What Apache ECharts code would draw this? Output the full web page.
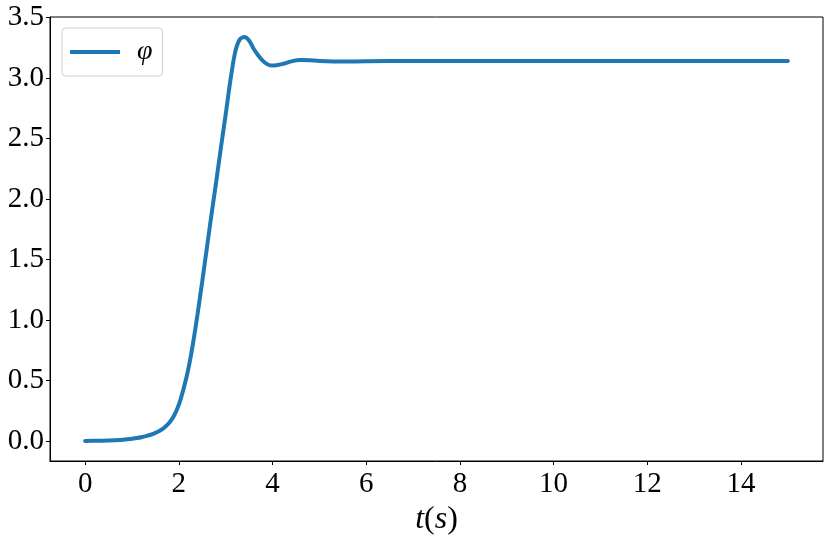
<!DOCTYPE html>
<html>
<head>
<meta charset="utf-8">
<script src="https://cdn.jsdelivr.net/npm/echarts@6/dist/echarts.min.js"></script>
<style>
  html, body { margin: 0; padding: 0; background: #fff; }
  #chart { width: 830px; height: 537px; }
</style>
</head>
<body>
<div id="chart"></div>
<script>
// ==============================================================
// phi(t) step response
// ==============================================================
var tValues = [0, 0.25, 0.5, 0.75, 1.0, 1.1, 1.2, 1.3, 1.4, 1.5, 1.6, 1.7, 1.8, 1.9, 2.0, 2.1, 2.2, 2.3, 2.4, 2.5, 2.6, 2.7, 2.8, 2.9, 3.0, 3.1, 3.2, 3.3, 3.4, 3.5, 3.6, 3.7, 3.8, 3.9, 4.0, 4.2, 4.4, 4.6, 4.8, 5.0, 5.5, 6.0, 7.0, 8.0, 10.0, 12.0, 15.0];
var phiValues = [0, 0.001, 0.003, 0.008, 0.018, 0.024, 0.031, 0.04, 0.051, 0.066, 0.086, 0.113, 0.152, 0.21, 0.3, 0.43, 0.59, 0.8, 1.05, 1.32, 1.6, 1.88, 2.15, 2.43, 2.7, 2.98, 3.21, 3.32, 3.34, 3.31, 3.24, 3.185, 3.14, 3.112, 3.103, 3.115, 3.138, 3.149, 3.147, 3.142, 3.137, 3.139, 3.1416, 3.1416, 3.1416, 3.1416, 3.1416];
var xTicks = [0, 2, 4, 6, 8, 10, 12, 14];
var yTicks = [0, 0.5, 1.0, 1.5, 2.0, 2.5, 3.0, 3.5];

var serif = 'Liberation Serif';
var chart = echarts.init(document.getElementById('chart'));

var option = {
    backgroundColor: '#fff',
    animation: false,
    grid: {
        left: 50, right: 7, top: 17, bottom: 76,
        outerBoundsMode: 'none',
        containLabel: false,
        show: true, borderColor: '#000', borderWidth: 1
    },
    legend: {
        left: 62, top: 28,
        padding: [10, 10, 10, 8],
        itemWidth: 50, itemHeight: 4,
        borderColor: '#d0d0d0', borderWidth: 1, borderRadius: 4,
        backgroundColor: 'rgba(255,255,255,0.8)',
        textStyle: {
            fontFamily: serif, fontStyle: 'italic', fontSize: 28, color: '#000',
            padding: [4, 0, 0, 12]
        },
        data: [{ name: 'φ', icon: 'rect' }]
    },
    xAxis: {
        type: 'value',
        min: -0.75, max: 15.75,
        splitLine: { show: false },
        axisLine: { show: true, onZero: false, lineStyle: { color: '#000', width: 1 } },
        axisTick: { show: true, length: 4, customValues: xTicks, lineStyle: { color: '#000' } },
        axisLabel: {
            customValues: xTicks, margin: 9,
            fontFamily: serif, fontSize: 29, color: '#000'
        },
        name: '{i|t}{n|(}{i|s}{n|)}',
        nameLocation: 'middle', nameGap: 42,
        nameTextStyle: {
            rich: {
                i: { fontFamily: serif, fontStyle: 'italic', fontSize: 32, color: '#000' },
                n: { fontFamily: serif, fontSize: 32, color: '#000' }
            }
        }
    },
    yAxis: {
        type: 'value',
        min: -0.166, max: 3.505,
        splitLine: { show: false },
        axisLine: { show: true, onZero: false, lineStyle: { color: '#000', width: 1 } },
        axisTick: { show: true, length: 4, customValues: yTicks, lineStyle: { color: '#000' } },
        axisLabel: {
            customValues: yTicks, margin: 6,
            fontFamily: serif, fontSize: 29, color: '#000',
            formatter: function (v) { return v.toFixed(1); }
        }
    },
    series: [{
        name: 'φ',
        type: 'line',
        symbol: 'none',
        smooth: 0.25,
        color: '#1f77b4',
        lineStyle: { width: 4, color: '#1f77b4', cap: 'round' },
        data: tValues.map(function (t, i) { return [t, phiValues[i]]; })
    }]
};

chart.setOption(option);
</script>
</body>
</html>
